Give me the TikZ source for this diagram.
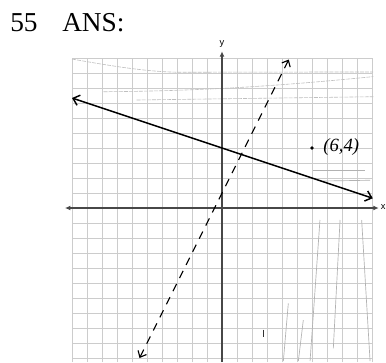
\documentclass[tikz,border=0pt]{standalone}
\usepackage{fontspec}
\setmainfont{Liberation Serif}
\newfontfamily\axfont{Liberation Sans}
\usetikzlibrary{arrows.meta}
\begin{document}
\begin{tikzpicture}[x=11.25pt,y=11.25pt,
  gridline/.style={gray!40, line width=0.45pt},
  axisline/.style={black!72, line width=0.8pt},
  solidline/.style={black, line width=1.1pt, {Straight Barb[length=4.5pt,width=8pt]}-{Straight Barb[length=4.5pt,width=8pt]}},
  dashline/.style={black, line width=0.85pt, dash pattern=on 6pt off 5pt, {Straight Barb[length=4pt,width=7pt]}-{Straight Barb[length=4pt,width=7pt]}},
  pencil/.style={gray!60, line width=0.5pt},
  faint/.style={gray!50, line width=0.45pt, dash pattern=on 3pt off 0.8pt},
  title/.style={inner sep=0pt, anchor=base west, font=\fontsize{20.5}{24}\selectfont},
  axlabel/.style={inner sep=0pt, font=\axfont\fontsize{7}{8}\selectfont},
  hand/.style={inner sep=0pt, font=\itshape\fontsize{14}{16}\selectfont}
]
\useasboundingbox (-14.8,-10.267) rectangle (10.933,13.867);
\fill[white] (-14.8,-10.267) rectangle (10.933,13.867);

% title
\node[title] (num) at (-14.133,11.753) {55};
\node[title] (ans) at (-10.667,11.753) {ANS:};

% graph paper
\foreach \i in {-10,...,10} {
  \draw[gridline] (\i,-10.267) -- (\i,10);
  \draw[gridline] (-10,\i) -- (10,\i);
}

% pencil scribbles
\draw[faint] (-10,9.93) .. controls (-7,9.4) and (-5,9.1) .. (-3,9.05) -- (10.07,9.07);
\draw[faint] (-7.9,7.75) .. controls (-2,7.8) and (3,8.05) .. (10.09,8.76);
\draw[faint] (-5.69,7.2) -- (10.09,7.42);
\draw[pencil] (6.07,2.53) -- (9.53,2.53);
\draw[pencil] (6.73,1.8) -- (9.87,1.85);
\draw[pencil] (6.53,-0.8) -- (5.87,-10.2);
\draw[pencil] (7.87,-0.8) -- (7.42,-9.35);
\draw[pencil] (9.31,-0.8) -- (9.87,-10.2);
\draw[pencil] (4.42,-6.36) -- (4.09,-10.2);
\draw[pencil] (5.42,-7.47) -- (5.09,-10.2);
\draw[black!80, line width=0.8pt] (2.76,-8.1) -- (2.76,-8.6);

% axes
\coordinate (xl) at (-10.47,0);
\coordinate (xr) at (10.45,0);
\coordinate (yb) at (0,-10.267);
\coordinate (yt) at (0,10.45);
\draw[axisline, {Latex[length=4pt,width=3.6pt]}-{Latex[length=4pt,width=3.6pt]}] (xl) -- (xr);
\draw[axisline, -{Latex[length=4pt,width=3.6pt]}] (yb) -- (yt);
\node[axlabel] (xlab) at (10.75,0.05) {x};
\node[axlabel] (ylab) at (0,10.95) {y};

% lines
\coordinate (sa) at (-10,7.333);
\coordinate (sb) at (10.05,0.65);
\draw[solidline] (sa) -- (sb);
\coordinate (da) at (-5.5,-10);
\coordinate (db) at (4.45,9.9);
\draw[dashline] (da) -- (db);

% point
\fill (6,4) circle (1.4pt) coordinate (pt);
\node[hand] (ptlab) at (7.95,4.05) {(6,4)};
\end{tikzpicture}
\end{document}
